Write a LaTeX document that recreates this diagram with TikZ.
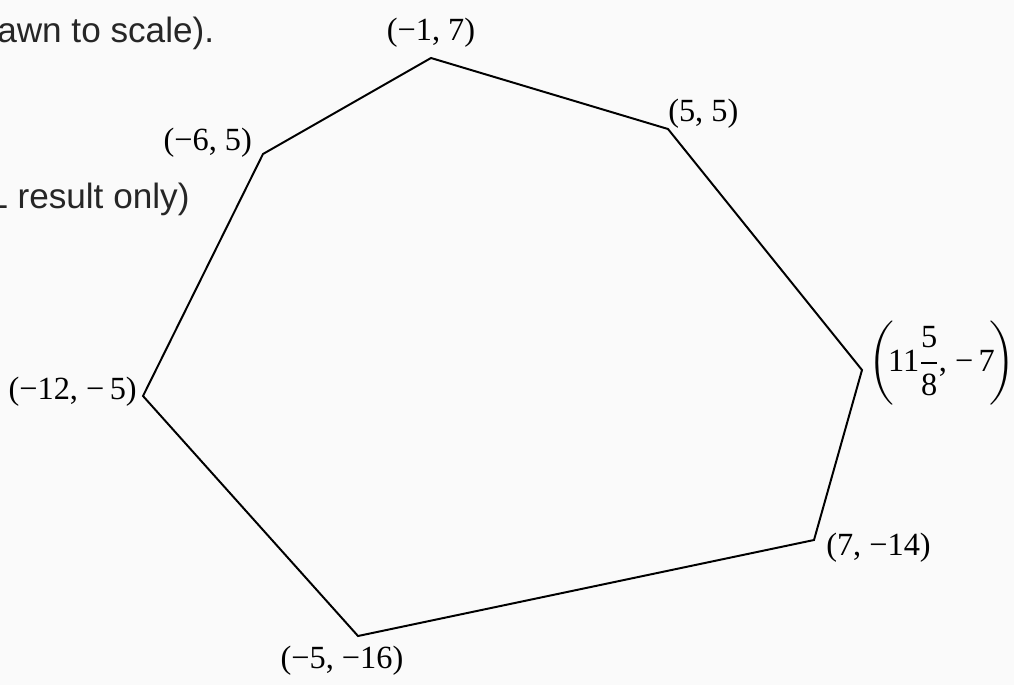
\documentclass[tikz,border=0pt]{standalone}
\usepackage{amsmath}
\usepackage{fontspec}
\setmainfont{Liberation Serif}
\newfontfamily\notesans{Liberation Sans}
\usetikzlibrary{positioning}

\begin{document}
\begin{tikzpicture}[x=0.025cm, y=-0.025cm,
        edge/.style={line width=1.4pt, line join=miter},
        vlabel/.style={font=\fontsize{23}{28}\selectfont, inner sep=0pt},
        notetext/.style={font=\notesans\fontsize{25}{30}\selectfont,
            text=black!85, inner sep=0pt, anchor=base west}]
    \useasboundingbox[fill=black!2] (0, 0) rectangle (1014, 685);

    % vertices of the heptagon
    \coordinate (vTop)    at (431, 58);
    \coordinate (vNE)     at (668, 129);
    \coordinate (vEast)   at (862, 370);
    \coordinate (vSE)     at (814, 540);
    \coordinate (vBottom) at (358, 636);
    \coordinate (vWest)   at (143, 396);
    \coordinate (vNW)     at (263, 154);

    \draw[edge] (vTop) -- (vNE) -- (vEast) -- (vSE) -- (vBottom)
        -- (vWest) -- (vNW) -- cycle;

    % vertex labels
    \node[vlabel, above=0.25cm of vTop] (lTop) {(−1, 7)};
    \node[vlabel, above right=0.02cm and 0cm of vNE] (lNE) {(5, 5)};
    \node[vlabel, right=0.15cm of vEast, yshift=0.18cm] (lEast)
        {$\left(\!\text{11}\dfrac{\text{5}}{\text{8}}\text{, −\,7}\!\right)$};
    \node[vlabel, right=0.3cm of vSE, yshift=-0.2cm] (lSE) {(7, −14)};
    \node[vlabel, below=0.25cm of vBottom, xshift=-0.4cm] (lBottom) {(−5, −16)};
    \node[vlabel, left=0.15cm of vWest, yshift=0.1cm] (lWest) {(−12, −\,5)};
    \node[vlabel, left=0.27cm of vNW, yshift=0.27cm] (lNW) {(−6, 5)};

    % cut-off question text
    \node[notetext] (scaleNote) at (-3, 42) {awn to scale).};
    \node[notetext] (resultNote) at (-12, 208) {L result only)};
\end{tikzpicture}
\end{document}
